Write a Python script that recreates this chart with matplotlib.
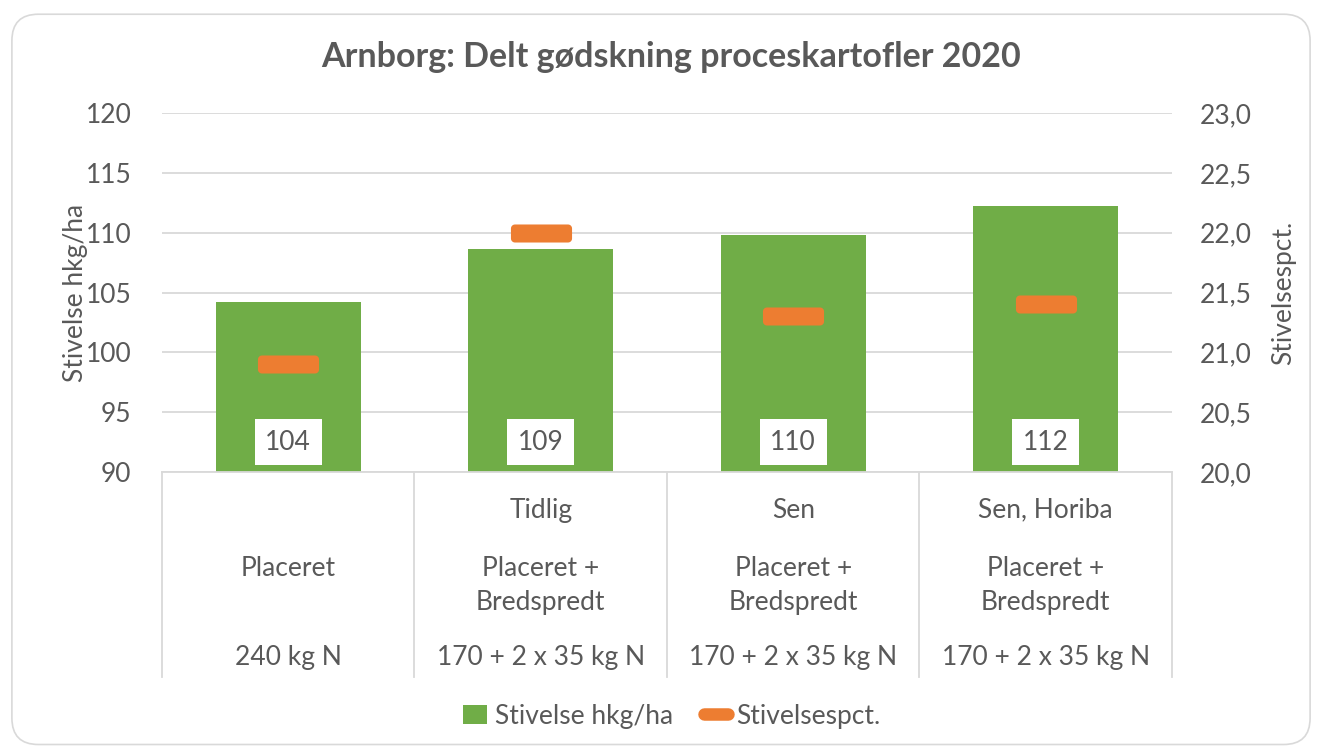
import numpy as np
import matplotlib
matplotlib.use("Agg")
import matplotlib.pyplot as plt
from matplotlib.path import Path
from matplotlib.patches import Patch, FancyBboxPatch
from matplotlib.lines import Line2D

plt.rcParams["font.family"] = ["Lato", "DejaVu Sans"]

# Data
row_timing = ["", "Tidlig", "Sen", "Sen, Horiba"]
row_method = ["Placeret", "Placeret +\nBredspredt", "Placeret +\nBredspredt", "Placeret +\nBredspredt"]
row_dose = ["240 kg N", "170 + 2 x 35 kg N", "170 + 2 x 35 kg N", "170 + 2 x 35 kg N"]
starch_yield = [104.2, 108.6, 109.8, 112.2]   # Stivelse hkg/ha (left axis)
starch_pct = [20.9, 22.0, 21.3, 21.4]         # Stivelsespct. (right axis)
left_ticks = [90, 95, 100, 105, 110, 115, 120]
right_ticks = [20.0, 20.5, 21.0, 21.5, 22.0, 22.5, 23.0]

GREEN = "#70AD47"
ORANGE = "#ED7D31"
TEXT = "#595959"
GRID = "#D9D9D9"
FS = 19


def rounded_rect(w, h, r, n=8):
    """Closed path of a rounded rectangle centred on 0, used as marker."""
    pts = []
    corners = [(w / 2 - r, h / 2 - r, 0), (-w / 2 + r, h / 2 - r, 90),
               (-w / 2 + r, -h / 2 + r, 180), (w / 2 - r, -h / 2 + r, 270)]
    for cx, cy, a0 in corners:
        for a in np.linspace(np.radians(a0), np.radians(a0 + 90), n):
            pts.append((cx + r * np.cos(a), cy + r * np.sin(a)))
    pts.append(pts[0])
    return Path(pts, closed=True)


fig = plt.figure(figsize=(13.22, 7.49), dpi=100)
frame = FancyBboxPatch((0.009, 0.006), 0.982, 0.975, boxstyle="round,pad=0,rounding_size=0.02",
                       transform=fig.transFigure, facecolor="white", edgecolor="#D9D9D9",
                       linewidth=1.2, mutation_aspect=1322 / 749, zorder=-5)
fig.patches.append(frame)

ax = fig.add_axes([0.1225, 0.3698, 0.764, 0.4793])
ax.patch.set_alpha(0)
x = np.arange(len(starch_yield))

ax.bar(x, starch_yield, width=0.575, color=GREEN, zorder=2)
ax.set_ylim(90, 120)
ax.set_xlim(-0.5, len(x) - 0.5)
ax.set_yticks(left_ticks)
ax.set_xticks([])
ax.grid(axis="y", color=GRID, linewidth=1.3, zorder=0)
for s in ["top", "right", "left"]:
    ax.spines[s].set_visible(False)
ax.spines["bottom"].set_color(GRID)
ax.spines["bottom"].set_linewidth(1.3)
ax.tick_params(axis="y", length=0, pad=22, labelsize=FS, labelcolor=TEXT)
ax.set_ylabel("Stivelse hkg/ha", fontsize=FS, color=TEXT, labelpad=-2)

for xi, v in zip(x, starch_yield):
    ax.text(xi, 92.5, f"{v:.0f}", ha="center", va="center", fontsize=FS, color=TEXT, zorder=4,
            bbox=dict(facecolor="white", edgecolor="none", boxstyle="square,pad=0.4"))

ax2 = ax.twinx()
ax2.set_ylim(20, 23)
ax2.set_yticks(right_ticks)
ax2.set_yticklabels([f"{t:.1f}".replace(".", ",") for t in right_ticks])
for s in ax2.spines.values():
    s.set_visible(False)
ax2.tick_params(axis="y", length=0, pad=20, labelsize=FS, labelcolor=TEXT)
ax2.set_ylabel("Stivelsespct.", fontsize=FS, color=TEXT, labelpad=14)
ax2.plot(x, starch_pct, linestyle="none", marker=rounded_rect(61, 18, 4), markersize=44,
         color=ORANGE, markeredgewidth=0, zorder=3)

# category table below the plot
tr = ax.get_xaxis_transform()
for b in np.arange(-0.5, len(x), 1.0):
    ax.plot([b, b], [0, -0.571], transform=tr, color=GRID, linewidth=1.3, clip_on=False)
for xi in x:
    ax.text(xi, -0.106, row_timing[xi], transform=tr, ha="center", va="center", fontsize=FS, color=TEXT)
    ax.text(xi, -0.234, row_method[xi], transform=tr, ha="center", va="top", fontsize=FS, color=TEXT,
            linespacing=1.47)
    ax.text(xi, -0.518, row_dose[xi], transform=tr, ha="center", va="center", fontsize=FS, color=TEXT)

fig.text(0.5075, 0.924, "Arnborg: Delt gødskning proceskartofler 2020", ha="center", va="center",
         fontsize=24.5, fontweight="bold", color=TEXT)

handles = [Patch(facecolor=GREEN, edgecolor="none"),
           Line2D([], [], color=ORANGE, linewidth=9, solid_capstyle="round")]
fig.legend(handles, ["Stivelse hkg/ha", "Stivelsespct."], loc="center", bbox_to_anchor=(0.508, 0.044),
           ncol=2, frameon=False, fontsize=FS, labelcolor=TEXT, handlelength=0.9, handleheight=0.7,
           handletextpad=0.3, columnspacing=1.2)

fig.savefig("out.png", dpi=100, facecolor="white")
